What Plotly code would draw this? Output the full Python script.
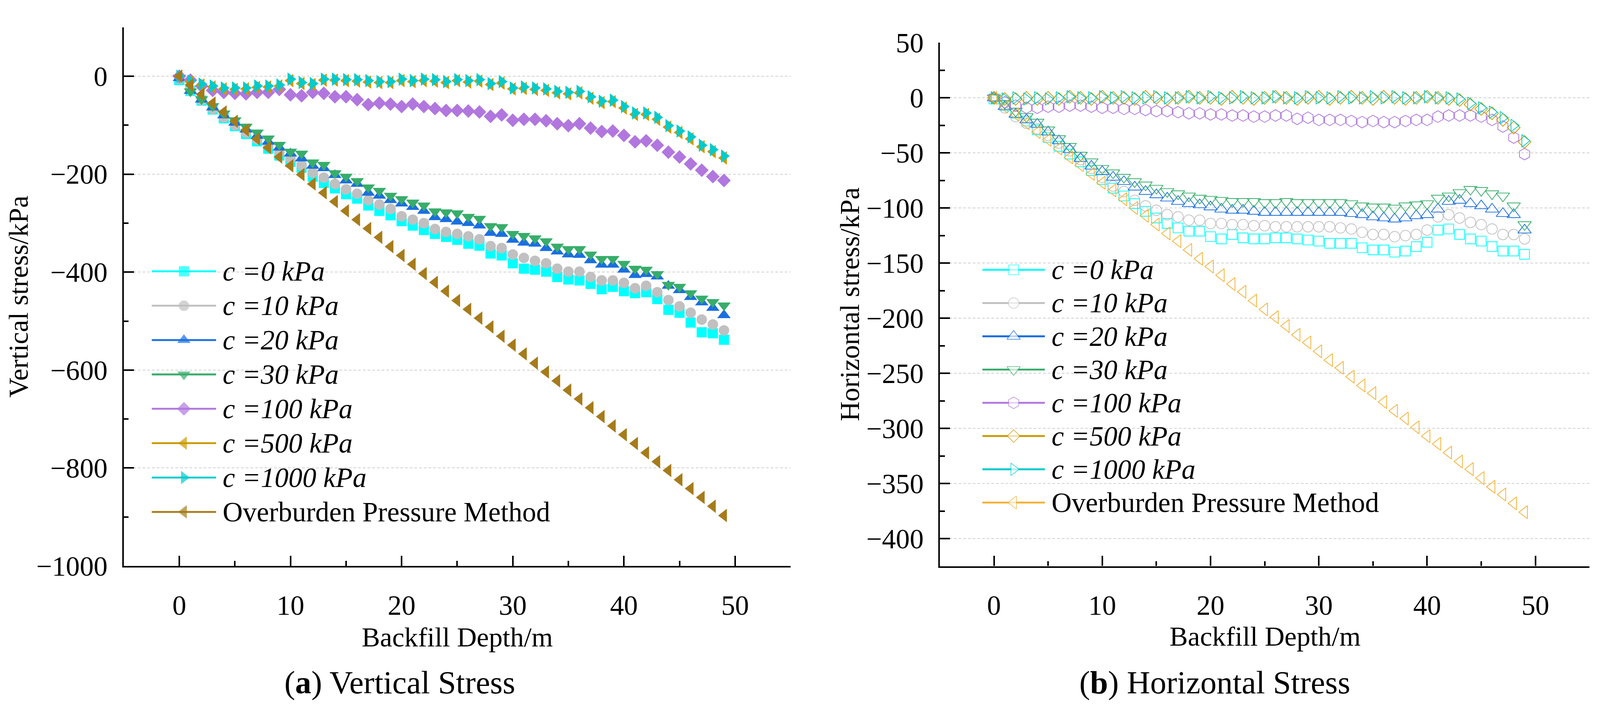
import plotly.graph_objects as go
from plotly.subplots import make_subplots

# backfill depth (m)
depth = list(range(50))

names = ["<i>c =0 kPa</i>", "<i>c =10 kPa</i>", "<i>c =20 kPa</i>", "<i>c =30 kPa</i>",
         "<i>c =100 kPa</i>", "<i>c =500 kPa</i>", "<i>c =1000 kPa</i>",
         "Overburden Pressure Method"]

# (a) vertical stress, kPa
v_c0 = [-8, -30, -50, -68, -86, -102, -118, -133, -148, -162,
        -175, -187, -205, -218, -229, -241, -250, -264, -275, -284,
        -296, -305, -314, -322, -328, -334, -342, -346, -362, -366,
        -382, -393, -395, -399, -410, -415, -417, -424, -435, -430,
        -439, -443, -441, -455, -477, -483, -503, -523, -525, -538]
v_c10 = [-5, -29, -49, -67, -84, -100, -115, -129, -142, -155,
         -168, -182, -197, -207, -220, -231, -240, -253, -262, -271,
         -286, -293, -300, -312, -318, -322, -327, -333, -347, -351,
         -364, -371, -377, -382, -393, -399, -399, -410, -417, -417,
         -422, -433, -428, -441, -457, -470, -483, -497, -507, -519]
v_c20 = [-4, -30, -48, -64, -80, -95, -109, -122, -134, -146,
         -158, -168, -183, -188, -202, -213, -220, -238, -244, -253,
         -260, -267, -275, -288, -292, -297, -300, -305, -320, -322,
         -334, -340, -342, -351, -358, -364, -365, -376, -385, -385,
         -395, -406, -404, -409, -428, -437, -451, -462, -473, -488]
v_c30 = [-3, -31, -47, -61, -76, -90, -103, -115, -127, -140,
         -154, -158, -176, -181, -198, -205, -214, -227, -234, -244,
         -251, -258, -264, -276, -278, -280, -287, -291, -306, -308,
         -322, -326, -331, -337, -348, -353, -353, -364, -373, -373,
         -383, -393, -395, -404, -426, -430, -443, -454, -461, -468]
v_c100 = [0, -8, -20, -29, -33, -35, -36, -33, -33, -27,
          -38, -40, -33, -35, -42, -42, -48, -58, -55, -57,
          -62, -57, -62, -66, -70, -70, -71, -73, -82, -79,
          -90, -88, -88, -91, -97, -101, -97, -106, -113, -112,
          -121, -134, -132, -141, -155, -165, -179, -192, -205, -213]
v_c500 = [0, -12, -18, -22, -26, -27, -26, -23, -22, -20,
          -9, -15, -17, -8, -8, -9, -10, -12, -13, -13,
          -9, -11, -9, -10, -13, -9, -12, -10, -17, -14,
          -26, -25, -27, -29, -34, -36, -34, -45, -54, -52,
          -65, -78, -78, -88, -104, -115, -128, -144, -154, -167]
v_c1000 = [0, -10, -16, -20, -24, -24, -24, -20, -20, -18,
           -6, -13, -15, -6, -6, -7, -7, -9, -11, -11,
           -6, -9, -6, -7, -11, -7, -9, -7, -15, -11,
           -24, -22, -24, -26, -31, -33, -31, -42, -51, -49,
           -62, -75, -75, -84, -101, -112, -124, -141, -150, -163]
v_opm = [0, -18, -37, -55, -73, -92, -110, -128, -146, -165,
         -183, -201, -220, -238, -256, -275, -293, -311, -329, -348,
         -366, -384, -403, -421, -439, -458, -476, -494, -512, -531,
         -549, -567, -586, -604, -622, -641, -659, -677, -695, -714,
         -732, -750, -769, -787, -805, -824, -842, -860, -878, -897]

# (b) horizontal stress, kPa
h_c0 = [-1, -7, -14, -21, -29, -36, -44, -51, -58, -66,
        -74, -82, -89, -96, -103, -109, -114, -118, -121, -121,
        -126, -128, -124, -127, -128, -128, -127, -127, -128, -129,
        -130, -132, -132, -132, -136, -138, -138, -140, -139, -135,
        -131, -120, -119, -124, -128, -130, -135, -139, -139, -142]
h_c10 = [0, -9, -17, -23, -28, -34, -41, -48, -56, -64,
         -72, -80, -85, -93, -98, -102, -106, -108, -111, -111,
         -114, -114, -115, -115, -116, -116, -117, -117, -117, -117,
         -117, -117, -118, -119, -122, -124, -124, -126, -125, -124,
         -120, -108, -106, -109, -113, -115, -119, -124, -124, -128]
h_c20 = [0, -8, -15, -20, -24, -31, -39, -47, -55, -62,
         -67, -72, -76, -81, -85, -88, -91, -94, -96, -97,
         -99, -101, -102, -102, -103, -104, -104, -104, -104, -104,
         -104, -104, -104, -105, -106, -108, -109, -110, -109, -107,
         -106, -101, -94, -93, -96, -98, -101, -105, -106, -120]
h_c30 = [0, -5, -12, -17, -22, -29, -37, -44, -52, -58,
         -64, -68, -72, -76, -79, -82, -85, -87, -89, -91,
         -92, -93, -94, -94, -94, -95, -95, -94, -95, -95,
         -95, -95, -95, -96, -98, -99, -99, -100, -98, -97,
         -96, -91, -89, -86, -83, -84, -87, -89, -98, -115]
h_c100 = [0, -4, -7, -9, -9, -8, -8, -7, -7, -8,
          -9, -9, -10, -10, -11, -12, -12, -13, -14, -14,
          -15, -15, -16, -16, -17, -17, -16, -16, -19, -18,
          -20, -20, -20, -21, -22, -21, -22, -22, -21, -20,
          -20, -17, -16, -16, -16, -17, -20, -26, -36, -51]
h_c500 = [0, -1, -1, 0, -1, 0, -1, 1, 0, -1,
          1, 0, 0, -1, 1, 0, -1, 0, 1, 0,
          0, -1, 1, 0, -1, 0, 1, 0, -1, 0,
          1, -1, 0, 1, 0, -1, 1, 0, -1, 0,
          1, 0, -1, -2, -6, -10, -14, -20, -27, -40]
h_c1000 = [0, -1, 0, -1, 0, -1, 0, 1, 0, 0,
           1, 0, 1, 0, 0, 1, 0, 0, 1, 0,
           1, 0, 0, 1, 0, 0, 1, 0, 0, 1,
           0, 0, 1, 0, 0, 1, 0, 1, 0, 0,
           1, 0, 0, -1, -5, -9, -13, -18, -25, -39]
h_opm = [0, -8, -15, -23, -31, -38, -46, -54, -61, -69,
         -77, -84, -92, -100, -107, -115, -123, -130, -138, -146,
         -153, -161, -169, -176, -184, -192, -199, -207, -215, -222,
         -230, -238, -245, -253, -261, -268, -276, -284, -291, -299,
         -307, -314, -322, -330, -337, -345, -353, -360, -368, -376]

v_series = [v_c0, v_c10, v_c20, v_c30, v_c100, v_c500, v_c1000, v_opm]
h_series = [h_c0, h_c10, h_c20, h_c30, h_c100, h_c500, h_c1000, h_opm]

v_colors = ["#00FFFF", "#C0C0C0", "#1A6FDF", "#37AD6B", "#B177DE", "#CC9900", "#00CBCC", "#A67B1A"]
h_colors = ["#00FFFF", "#C0C0C0", "#1A6FDF", "#37AD6B", "#B177DE", "#CC9900", "#00CBCC", "#F2B134"]
v_symbols = ["square", "circle", "triangle-up", "triangle-down", "diamond",
             "triangle-left", "triangle-right", "triangle-left"]
h_symbols = ["square", "circle", "triangle-up", "triangle-down", "hexagon",
             "diamond", "triangle-right", "triangle-left"]
v_sizes = [27, 28, 31, 31, 28, 31, 31, 31]
h_sizes = [26, 28, 31, 31, 31, 26, 29, 30]

FONT = "Liberation Serif"
W, H = 4280, 1855   # reference canvas, used as a pixel grid for legend keys / labels
Z = 1.04            # page renders slightly enlarged, so pixel sizes are scaled down


def px(v):
    return round(v / Z, 1)


fig = make_subplots(rows=1, cols=2)

# left panel: filled symbols
for i in range(8):
    fig.add_trace(go.Scatter(
        x=depth, y=v_series[i], mode="markers", name=names[i], showlegend=False,
        marker=dict(symbol=v_symbols[i], size=px(v_sizes[i]), color=v_colors[i], line=dict(width=0))
    ), row=1, col=1)

# right panel: hollow symbols
for i in range(8):
    fig.add_trace(go.Scatter(
        x=depth, y=h_series[i], mode="markers", name=names[i], showlegend=False,
        marker=dict(symbol=h_symbols[i] + "-open", size=px(h_sizes[i]), color=h_colors[i],
                    line=dict(width=px(2), color=h_colors[i]))
    ), row=1, col=2)

# hand-made legends (plotly caps legend symbols at 16px) on a full-page overlay axis
leg_left = dict(x0=406, x1=578, xt=594, y0=685, dy=91.8)
leg_right = dict(x0=2628, x1=2795, xt=2811, y0=681, dy=88.8)
for leg, cols, syms, sizes, hollow in [(leg_left, v_colors, v_symbols, v_sizes, False),
                                      (leg_right, h_colors, h_symbols, h_sizes, True)]:
    xm = (leg["x0"] + leg["x1"]) / 2
    for i in range(8):
        yi = leg["y0"] + i * leg["dy"]
        fig.add_trace(go.Scatter(
            x=[leg["x0"], xm, leg["x1"]], y=[yi, yi, yi], mode="lines+markers",
            xaxis="x3", yaxis="y3", showlegend=False, hoverinfo="skip",
            line=dict(color=cols[i], width=px(5)),
            marker=dict(symbol=syms[i], size=[0, px(sizes[i]), 0],
                        color="white" if hollow else cols[i],
                        line=dict(width=px(2) if hollow else 0, color=cols[i]))
        ))
        fig.add_annotation(text=names[i], x=leg["xt"], y=yi, xref="x3", yref="y3",
                           xanchor="left", yanchor="middle", showarrow=False,
                           font=dict(family=FONT, size=px(74), color="black"))

axis_common = dict(
    showline=True, linewidth=px(4.5), linecolor="black", mirror=False,
    ticks="inside", ticklen=px(27), tickwidth=px(4), tickcolor="black",
    tickfont=dict(family=FONT, size=px(74), color="black"),
    zeroline=False,
)

fig.update_xaxes(axis_common, range=[-5, 55], dtick=10, tick0=0, showgrid=False,
                 ticklabelstandoff=round(36 / Z),
                 minor=dict(ticks="inside", ticklen=px(13), tickwidth=px(4), dtick=5,
                            tickcolor="black", showgrid=False))
fig.update_yaxes(axis_common, showgrid=True, gridcolor="#D0D0D0", gridwidth=px(2), griddash="7px,5px",
                 ticklabelstandoff=round(24 / Z))

fig.update_xaxes(domain=[331 / W, 2115 / W], row=1, col=1)
fig.update_xaxes(domain=[2514 / W, 4252 / W], row=1, col=2)
fig.update_yaxes(domain=[1 - 1472 / H, 1 - 33 / H], range=[-1000, 100], dtick=200, tick0=0,
                 minor=dict(ticks="inside", ticklen=px(13), tickwidth=px(4), dtick=100,
                            tickcolor="black", showgrid=False),
                 row=1, col=1)
fig.update_yaxes(domain=[1 - 1472.5 / H, 1 - 74.6 / H], range=[-425, 50], dtick=50, tick0=0,
                 minor=dict(ticks="inside", ticklen=px(13), tickwidth=px(4), dtick=25,
                            tickcolor="black", showgrid=False),
                 row=1, col=2)

# axis titles and panel captions
labels = [
    ("Vertical stress/kPa", 50, 752, -90, 73),
    ("Horizontal stress/kPa", 2272, 773, -90, 73),
    ("Backfill Depth/m", 1223, 1662, 0, 73),
    ("Backfill Depth/m", 3384, 1660, 0, 73),
    ("(<b>a</b>) Vertical Stress", 1069, 1783, 0, 86),
    ("(<b>b</b>) Horizontal Stress", 3250, 1783, 0, 86),
]
for text, lx, ly, ang, fs in labels:
    fig.add_annotation(text=text, x=lx, y=ly, xref="x3", yref="y3",
                       xanchor="center", yanchor="middle", textangle=ang, showarrow=False,
                       font=dict(family=FONT, size=px(fs), color="black"))

fig.update_layout(
    xaxis3=dict(domain=[0, 1], range=[0, W], visible=False, fixedrange=True, anchor="y3"),
    yaxis3=dict(domain=[0, 1], range=[H, 0], visible=False, fixedrange=True, anchor="x3"),
    margin=dict(l=0, r=0, t=0, b=0),
    paper_bgcolor="white", plot_bgcolor="rgba(0,0,0,0)",
    font=dict(family=FONT, color="black"),
    showlegend=False,
)

fig.write_html("out.html", default_width="100vw", default_height="100vh",
               config={"displayModeBar": False},
               post_script="document.body.style.margin='0';")
